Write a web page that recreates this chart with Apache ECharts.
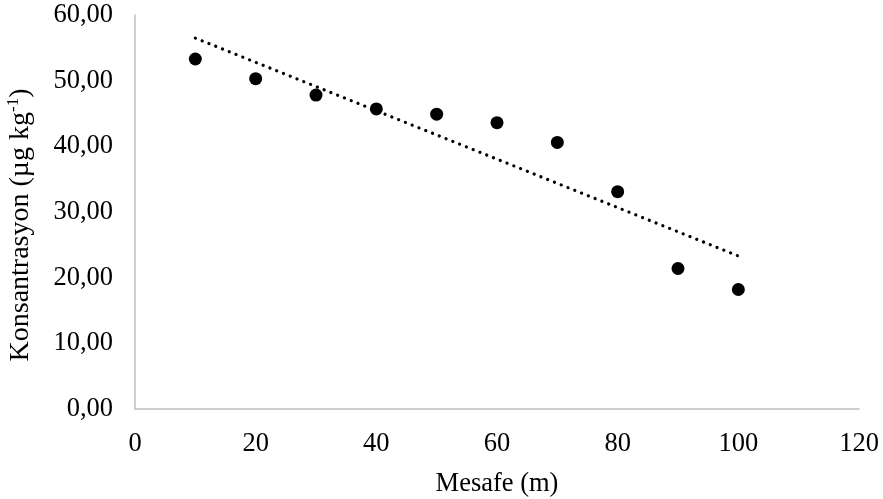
<!DOCTYPE html>
<html>
<head>
<meta charset="utf-8">
<script src="https://cdn.jsdelivr.net/npm/echarts@6/dist/echarts.min.js"></script>
<style>html,body{margin:0;padding:0;background:#fff;}#c{width:883px;height:499px;}</style>
</head>
<body>
<div id="c"></div>
<script>
const distances = [10, 20, 30, 40, 50, 60, 70, 80, 90, 100];
const concentrations = [53.3, 50.3, 47.8, 45.7, 44.9, 43.6, 40.6, 33.1, 21.4, 18.2];
const xTicks = [0, 20, 40, 60, 80, 100, 120];
const yTicks = [0, 10, 20, 30, 40, 50, 60];
const xTitle = 'Mesafe (m)';
const yTitleMain = 'Konsantrasyon (µg kg';
const yTitleSup = '-1';

// linear trendline (least squares) from the data
const n = distances.length;
const mx = distances.reduce((a, b) => a + b, 0) / n;
const my = concentrations.reduce((a, b) => a + b, 0) / n;
let sxy = 0, sxx = 0;
for (let i = 0; i < n; i++) { sxy += (distances[i] - mx) * (concentrations[i] - my); sxx += (distances[i] - mx) ** 2; }
const slope = sxy / sxx, intercept = my - slope * mx;
const trendX = [distances[0], distances[n - 1]];
const trend = trendX.map(x => [x, intercept + slope * x]);

const font = 'Liberation Serif';
const chart = echarts.init(document.getElementById('c'));
chart.setOption({
  animation: false,
  grid: { left: 135, right: 24, top: 15, bottom: 90, containLabel: false, outerBoundsMode: 'none' },
  xAxis: {
    type: 'value', min: xTicks[0], max: xTicks[xTicks.length - 1], interval: 20,
    axisLine: { lineStyle: { color: '#bfbfbf', width: 1.5 } },
    axisTick: { show: false }, splitLine: { show: false },
    axisLabel: { fontFamily: font, fontSize: 26.5, color: '#000', margin: 22 },
    name: xTitle, nameLocation: 'middle', nameGap: 62,
    nameTextStyle: { fontFamily: font, fontSize: 26.5, color: '#000' }
  },
  yAxis: {
    type: 'value', min: yTicks[0], max: yTicks[yTicks.length - 1], interval: 10,
    axisLine: { show: true, lineStyle: { color: '#bfbfbf', width: 1.5 } },
    axisTick: { show: false }, splitLine: { show: false },
    axisLabel: { fontFamily: font, fontSize: 26.5, color: '#000', margin: 22,
      formatter: v => v.toFixed(2).replace('.', ',') },
    name: '{a|' + yTitleMain + '}{s|' + yTitleSup + '}{a|)}',
    nameLocation: 'middle', nameGap: 100, nameRotate: 90,
    nameTextStyle: {
      padding: [0, 26, 0, 0],
      rich: {
        a: { fontFamily: font, fontSize: 28, color: '#000', lineHeight: 32, verticalAlign: 'bottom' },
        s: { fontFamily: font, fontSize: 17, color: '#000', lineHeight: 32, verticalAlign: 'top', padding: [2, 0, 0, 0] }
      }
    }
  },
  series: [
    {
      type: 'scatter', data: distances.map((x, i) => [x, concentrations[i]]),
      symbol: 'circle', symbolSize: 13, itemStyle: { color: '#000', opacity: 1 }, z: 3
    },
    {
      type: 'line', data: trend, showSymbol: false, symbol: 'none',
      lineStyle: { color: '#000', width: 3.2, type: [0.1, 7.2], cap: 'round' }, z: 2
    }
  ]
});
</script>
</body>
</html>
